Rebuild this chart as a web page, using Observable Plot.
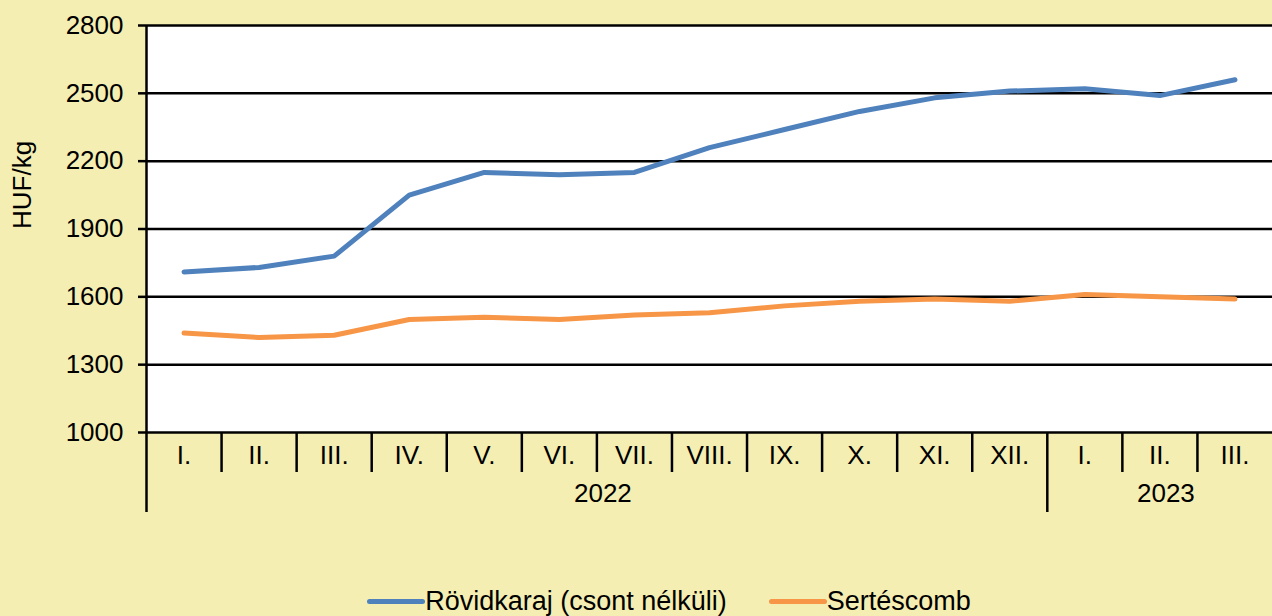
<!DOCTYPE html>
<html><head><meta charset="utf-8">
<script src="https://cdn.jsdelivr.net/npm/d3@7"></script>
<script src="https://cdn.jsdelivr.net/npm/@observablehq/plot@0.6"></script>
<style>
html,body{margin:0;padding:0;background:#F4EEB2;font-family:"Liberation Sans",Arial,sans-serif;}
#chart svg{display:block;}
#legend{height:36px;margin-top:3px;display:flex;align-items:center;justify-content:center;padding-left:66px;font-size:27px;color:#000;}
#legend .sw{display:inline-block;width:58px;height:5px;border-radius:3px;}
#legend .item{display:flex;align-items:center;margin:0 21px;}
</style></head>
<body><div id="chart"></div><div id="legend"></div>
<script>
const months = ["I.","II.","III.","IV.","V.","VI.","VII.","VIII.","IX.","X.","XI.","XII.","I.","II.","III."];
const yearLabels = ["2022","2023"];
const yearStart = [0, 12];
const yearEnd = [11, 14];
const rovidkaraj = [1710,1730,1780,2050,2150,2140,2150,2260,2340,2420,2480,2510,2520,2490,2560];
const sertescomb = [1440,1420,1430,1500,1510,1500,1520,1530,1560,1580,1590,1580,1610,1600,1590];
const seriesNames = ["Rövidkaraj (csont nélküli)","Sertéscomb"];
const seriesColors = ["#4F81BD","#F79646"];
const yTicks = [1000,1300,1600,1900,2200,2500,2800];

const data = months.map((m,i)=>({i, m, a: rovidkaraj[i], b: sertescomb[i]}));
const years = yearLabels.map((l,k)=>({label:l, start:yearStart[k], end:yearEnd[k]}));
const inner = d3.range(0.5, months.length - 1, 1).filter(v => !yearStart.slice(1).includes(v + 0.5));
const yearBounds = yearStart.slice(1).map(s => s - 0.5);
const font = '"Liberation Sans",Arial,sans-serif';

const plot = Plot.plot({
  width: 1272, height: 580,
  marginLeft: 146, marginRight: 0, marginTop: 25, marginBottom: 148,
  style: {background: "transparent", fontFamily: font, fontSize: "26px", color: "#000", overflow: "visible"},
  x: {type: "linear", domain: [-0.5, months.length - 0.5], axis: null},
  y: {domain: [1000, 2800], axis: null},
  marks: [
    Plot.frame({fill: "white", stroke: null}),
    Plot.gridY(yTicks, {stroke: "#000", strokeOpacity: 1, strokeWidth: 2.5}),
    Plot.axisY(yTicks, {tickSize: 8, tickPadding: 15, tickFormat: d => String(d), label: null, fontSize: 26, stroke: "#000", strokeWidth: 2.5}),
    Plot.ruleX(inner, {y1: 1000, y2: 1000, insetBottom: -40, stroke: "#000", strokeWidth: 2.5}),
    Plot.ruleX(yearBounds, {y1: 1000, y2: 1000, insetBottom: -80, stroke: "#000", strokeWidth: 2.5}),
    Plot.ruleX([-0.5], {y1: 2800, y2: 1000, insetBottom: -80, stroke: "#000", strokeWidth: 2.5}),
    Plot.text(data, {x: "i", text: "m", frameAnchor: "bottom", dy: 31, fontSize: 26}),
    Plot.text(years, {x: d => (d.start + d.end) / 2 + 0.08, text: "label", frameAnchor: "bottom", dy: 69, fontSize: 26}),
    Plot.text(["HUF/kg"], {frameAnchor: "left", dx: -124, rotate: -90, fontSize: 26}),
    Plot.line(data, {x: "i", y: "b", stroke: seriesColors[1], strokeWidth: 5}),
    Plot.line(data, {x: "i", y: "a", stroke: seriesColors[0], strokeWidth: 5})
  ]
});
document.getElementById("chart").appendChild(plot);

const legend = document.getElementById("legend");
seriesNames.forEach((n, k) => {
  const item = document.createElement("div");
  item.className = "item";
  const sw = document.createElement("span");
  sw.className = "sw";
  sw.style.background = seriesColors[k];
  const t = document.createElement("span");
  t.textContent = n;
  item.appendChild(sw); item.appendChild(t);
  legend.appendChild(item);
});
</script>
</body></html>
